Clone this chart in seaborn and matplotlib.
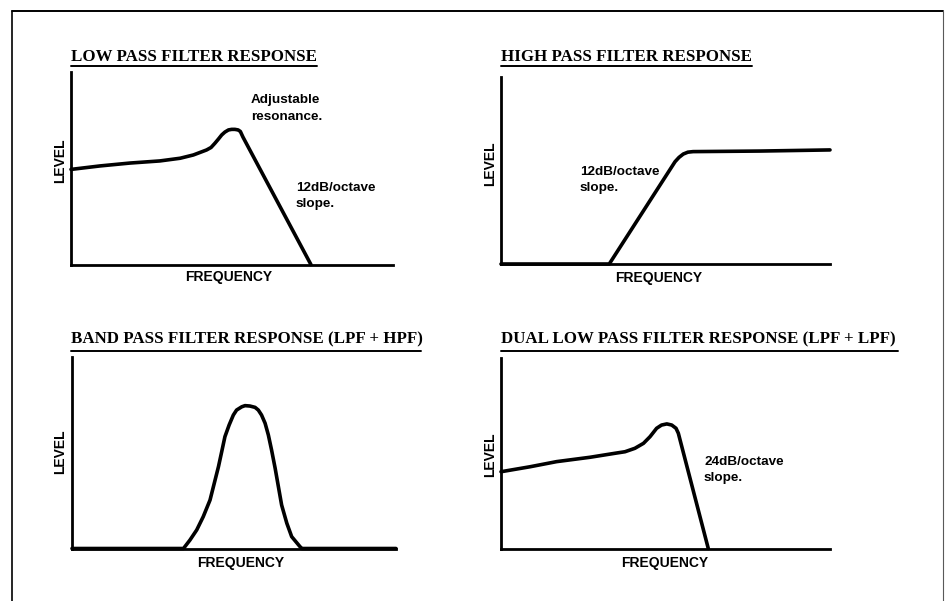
import matplotlib
matplotlib.use("Agg")
import matplotlib.pyplot as plt
from matplotlib.lines import Line2D
import seaborn as sns
import pandas as pd

# ---------------- data (0-100 arbitrary units) ----------------
lpf_freq = [0.0, 9.0, 18.3, 27.6, 33.9, 38.0, 42.1, 43.5, 44.7, 45.8, 46.8, 47.8, 48.9, 49.9,
            50.9, 51.9, 52.6, 53.4, 74.5]
lpf_level = [49.4, 51.2, 52.7, 53.8, 55.2, 56.9, 59.5, 60.8, 63.0, 65.2, 67.3, 68.8, 69.9, 70.2,
             70.2, 69.9, 69.1, 66.2, 0.0]

hpf_freq = [0.0, 32.9, 52.9, 54.1, 55.4, 56.8, 58.4, 78.7, 100.0]
hpf_level = [0.0, 0.0, 54.7, 57.0, 58.8, 59.8, 60.1, 60.4, 61.0]

bpf_freq = [0.0, 34.4, 36.4, 38.5, 40.5, 42.6, 43.9, 45.2, 46.2, 47.2, 48.5, 49.8, 50.8, 52.4,
            53.4, 54.9, 56.5, 57.5, 58.5, 59.6, 60.6, 61.6, 62.7, 63.7, 64.7, 66.3, 67.8, 70.4,
            71.0, 100.0]
bpf_level = [0.0, 0.0, 4.4, 9.7, 16.6, 25.3, 34.0, 42.7, 50.5, 58.4, 64.5, 69.7, 72.3, 74.0,
             74.6, 74.4, 73.7, 72.3, 69.7, 65.4, 59.3, 51.4, 41.9, 32.3, 22.7, 13.2, 6.2, 0.9,
             0.0, 0.0]

dual_freq = [0.0, 8.8, 16.9, 27.1, 34.7, 37.7, 40.7, 43.3, 45.3, 47.3, 48.8, 50.4, 51.9, 53.2,
             53.9, 63.0]
dual_level = [40.3, 42.9, 45.6, 47.9, 50.0, 50.8, 52.6, 55.2, 58.7, 63.1, 64.8, 65.4, 64.8, 63.1,
              60.5, 0.0]

titles = ["LOW PASS FILTER RESPONSE",
          "HIGH PASS FILTER RESPONSE",
          "BAND PASS FILTER RESPONSE (LPF + HPF)",
          "DUAL LOW PASS FILTER RESPONSE (LPF + LPF)"]
x_label = "FREQUENCY"
y_label = "LEVEL"
notes = [["Adjustable\nresonance.", "12dB/octave\nslope."],
         ["12dB/octave\nslope."],
         [],
         ["24dB/octave\nslope."]]

# ---------------- layout (pixels) ----------------
W, H = 946, 601
sns.set_theme(style="white")
plt.rcParams["font.family"] = ["Liberation Sans", "DejaVu Sans"]

fig = plt.figure(figsize=(W / 100, H / 100), dpi=100)
fig.patch.set_facecolor("white")


def fx(px):
    return px / W


def fy(py):
    return 1 - py / H


# panel boxes: left, right, top, bottom
boxes = [(71, 393, 72, 264.5), (501, 830, 77, 264), (72, 396, 357, 548.5), (501, 830, 358, 548.5)]
title_pos = [(71, 57, 71, 317, 66), (501, 57, 501, 752, 66),
             (71, 339.5, 71, 421, 351), (501, 339.5, 501, 898, 351)]
freq_pos = [(229, 277), (659, 278), (241, 563), (665, 563)]
level_pos = [(60, 161), (490, 164), (60, 452), (490, 455)]
note_pos = [[(251, 94), (296, 182)], [(580, 166)], [], [(704, 456)]]

curves = [(lpf_freq, lpf_level), (hpf_freq, hpf_level), (bpf_freq, bpf_level), (dual_freq, dual_level)]

for i, (l, r, t, b) in enumerate(boxes):
    ax = fig.add_axes([fx(l), fy(b), fx(r) - fx(l), (b - t) / H])
    df = pd.DataFrame({"freq": curves[i][0], "level": curves[i][1]})
    sns.lineplot(data=df, x="freq", y="level", ax=ax, color="black", linewidth=2.6,
                 sort=False, estimator=None, clip_on=False, solid_capstyle="round",
                 solid_joinstyle="round")
    ax.set_xlim(0, 100)
    ax.set_ylim(0, 100)
    ax.set_xticks([])
    ax.set_yticks([])
    ax.set_xlabel("")
    ax.set_ylabel("")
    ax.patch.set_alpha(0)
    for s in ["top", "right"]:
        ax.spines[s].set_visible(False)
    for s in ["left", "bottom"]:
        ax.spines[s].set_visible(True)
        ax.spines[s].set_color("black")
        ax.spines[s].set_linewidth(2.0)

    tx, ty, ux0, ux1, uy = title_pos[i]
    fig.text(fx(tx), fy(ty), titles[i], ha="left", va="center",
             family=["Liberation Serif", "DejaVu Serif"], fontweight="bold", fontsize=12.2, color="black")
    fig.add_artist(Line2D([fx(ux0), fx(ux1)], [fy(uy), fy(uy)], color="black", linewidth=1.4))

    fx_, fy_ = freq_pos[i]
    fig.text(fx(fx_), fy(fy_), x_label, ha="center", va="center", fontweight="bold",
             fontsize=10, color="black")
    lx, ly = level_pos[i]
    fig.text(fx(lx), fy(ly), y_label, ha="center", va="center", rotation=90, fontweight="bold",
             fontsize=10, color="black")

    for txt, (nx, ny) in zip(notes[i], note_pos[i]):
        fig.text(fx(nx), fy(ny), txt, ha="left", va="top", fontweight="bold", fontsize=9.7,
                 linespacing=1.5, color="black")

# page frame
fig.add_artist(Line2D([fx(12), fx(943)], [fy(11), fy(11)], color="black", linewidth=1.4))
fig.add_artist(Line2D([fx(12), fx(12)], [fy(11), fy(601)], color="black", linewidth=1.2))
fig.add_artist(Line2D([fx(943), fx(943)], [fy(11), fy(601)], color="0.35", linewidth=0.8))

fig.savefig("out.png", dpi=100, facecolor="white")
